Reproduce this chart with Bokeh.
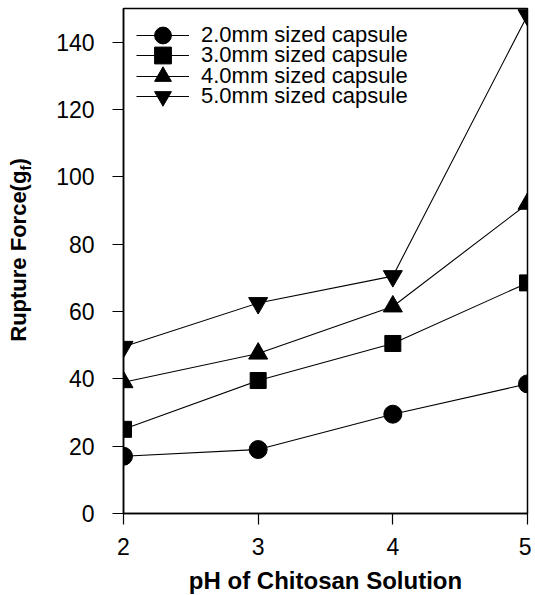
from bokeh.plotting import figure
from bokeh.models import Range1d, FixedTicker, Legend, LegendItem, Div
from bokeh.layouts import row
from bokeh.embed import file_html
from bokeh.resources import INLINE

ph = [2, 3, 4, 5]
cap_2mm = [17, 19, 29.5, 38.5]
cap_3mm = [25, 39.5, 50.5, 68.5]
cap_4mm = [39, 47.5, 61.5, 92]
cap_5mm = [49.5, 62.5, 70.5, 148]
labels = ["2.0mm sized capsule", "3.0mm sized capsule",
          "4.0mm sized capsule", "5.0mm sized capsule"]
y_ticks = [0, 20, 40, 60, 80, 100, 120, 140]
x_ticks = [2, 3, 4, 5]

FONT = "Liberation Sans"
DIV_W = 40

p = figure(frame_width=404, frame_height=505, output_backend="svg",
           toolbar_location=None, x_range=Range1d(2, 5), y_range=Range1d(0, 150),
           min_border_left=123 - DIV_W, min_border_right=4, min_border_top=8,
           min_border_bottom=76)
p.xgrid.visible = False
p.ygrid.visible = False
p.outline_line_color = "black"
p.outline_line_width = 1.5
p.background_fill_color = "white"
p.border_fill_color = "white"

for ax in (p.xaxis[0], p.yaxis[0]):
    ax.axis_line_color = "black"
    ax.axis_line_width = 1.5
    ax.major_tick_line_color = "black"
    ax.major_tick_line_width = 1.2
    ax.major_tick_in = 0
    ax.major_tick_out = 11
    ax.minor_tick_line_color = None
    ax.major_label_text_font = FONT
    ax.major_label_text_font_size = "23px"
    ax.major_label_text_color = "black"

p.xaxis.ticker = FixedTicker(ticks=x_ticks)
p.yaxis.ticker = FixedTicker(ticks=y_ticks)
p.xaxis.major_label_standoff = 13
p.yaxis.major_label_standoff = 18
p.xaxis.axis_label = "pH of Chitosan Solution"
p.xaxis.axis_label_text_font = FONT
p.xaxis.axis_label_text_font_style = "bold"
p.xaxis.axis_label_text_font_size = "24px"
p.xaxis.axis_label_text_color = "black"
p.xaxis.axis_label_standoff = 9

series = [cap_2mm, cap_3mm, cap_4mm, cap_5mm]
markers = ["circle", "square", "triangle", "inverted_triangle"]
sizes = [18, 16, 19, 19]

# one single-item legend per series, so rows can sit closer than the glyph box
ROW_PITCH = 20.3
FIRST_ROW_BOTTOM = 457
for i, (vals, mk, sz, lab) in enumerate(zip(series, markers, sizes, labels)):
    ln = p.line(ph, vals, line_color="black", line_width=1.1)
    sc = p.scatter(ph, vals, marker=mk, size=sz, fill_color="black", line_color="black")
    leg = Legend(items=[LegendItem(label=lab, renderers=[ln, sc])],
                 location=(13, round(FIRST_ROW_BOTTOM - i * ROW_PITCH)))
    leg.margin = 0
    leg.padding = 0
    leg.spacing = 0
    leg.glyph_width = 53
    leg.glyph_height = 42
    leg.label_height = 20
    leg.label_standoff = 12
    leg.label_text_font = FONT
    leg.label_text_font_size = "22px"
    leg.label_text_color = "black"
    leg.border_line_alpha = 0
    leg.background_fill_alpha = 0
    p.add_layout(leg)

ylabel_html = (
    '<div style="position:relative;width:%dpx;height:590px;">'
    '<span style="position:absolute;left:19px;top:250px;'
    'transform:translate(-50%%,-50%%) rotate(-90deg);white-space:nowrap;'
    'line-height:1;font-family:\'Liberation Sans\';font-weight:bold;'
    'font-size:22px;color:black;">Rupture Force(g<sub style="font-size:15px;'
    'line-height:0;">f</sub>)</span></div>' % DIV_W
)
ylab = Div(text=ylabel_html, width=DIV_W, height=590, margin=0)

layout = row(ylab, p, spacing=0)
open("out.html", "w").write(file_html(layout, INLINE))
